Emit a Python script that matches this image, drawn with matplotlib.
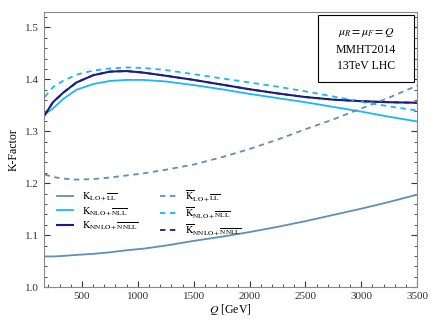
import numpy as np
import matplotlib
matplotlib.use('Agg')
import matplotlib.pyplot as plt
from matplotlib.ticker import MultipleLocator
from matplotlib.patches import Rectangle

plt.rcParams['font.family'] = ['Liberation Serif', 'DejaVu Serif']
plt.rcParams['mathtext.fontset'] = 'stix'

# Q [GeV]
Q = [166, 240, 330, 450, 600, 750, 900, 1050, 1250, 1500, 1750, 2000, 2250, 2500, 2750, 3000, 3250, 3500]

# K-factors
K_LO = [1.059, 1.059, 1.060, 1.062, 1.064, 1.067, 1.071, 1.074, 1.080, 1.089, 1.097, 1.106,
        1.116, 1.127, 1.139, 1.151, 1.164, 1.178]
K_NLO = [1.333, 1.344, 1.362, 1.380, 1.391, 1.397, 1.399, 1.399, 1.396, 1.389, 1.381, 1.372,
         1.364, 1.356, 1.347, 1.338, 1.328, 1.319]
K_NNLO = [1.331, 1.356, 1.374, 1.394, 1.408, 1.415, 1.416, 1.413, 1.407, 1.399, 1.390, 1.381,
          1.373, 1.366, 1.361, 1.358, 1.356, 1.355]
Kbar_LO = [1.217, 1.212, 1.209, 1.207, 1.208, 1.211, 1.215, 1.219, 1.226, 1.236, 1.250, 1.266,
           1.284, 1.304, 1.323, 1.344, 1.365, 1.388]
Kbar_NLO = [1.366, 1.385, 1.397, 1.409, 1.417, 1.421, 1.423, 1.422, 1.418, 1.410, 1.402, 1.394,
            1.386, 1.377, 1.367, 1.357, 1.348, 1.340]
Kbar_NNLO = K_NNLO  # lies on top of the solid NNLO curve

c_lo = '#5f8fb4'
c_nlo = '#1ab6f5'
c_nnlo = '#1c1c86'

labels_k = [r'$\mathrm{K}_{\mathrm{LO}+\overline{\mathrm{LL}}}$',
            r'$\mathrm{K}_{\mathrm{NLO}+\overline{\mathrm{NLL}}}$',
            r'$\mathrm{K}_{\mathrm{NNLO}+\overline{\mathrm{NNLL}}}$']
labels_kbar = [r'$\overline{\mathrm{K}}_{\mathrm{LO}+\overline{\mathrm{LL}}}$',
               r'$\overline{\mathrm{K}}_{\mathrm{NLO}+\overline{\mathrm{NLL}}}$',
               r'$\overline{\mathrm{K}}_{\mathrm{NNLO}+\overline{\mathrm{NNLL}}}$']

fig = plt.figure(figsize=(4.4, 3.3), dpi=100)
ax = fig.add_axes([0.1, 0.13, 0.848, 0.834])

dash = (0, (3, 2.5))
ax.plot(Q, K_LO, color=c_lo, lw=1.3, label=labels_k[0])
ax.plot(Q, K_NLO, color=c_nlo, lw=1.3, label=labels_k[1])
ax.plot(Q, K_NNLO, color=c_nnlo, lw=1.5, label=labels_k[2])
ax.plot(Q, Kbar_LO, color=c_lo, lw=1.3, ls=dash, label=labels_kbar[0])
ax.plot(Q, Kbar_NLO, color=c_nlo, lw=1.3, ls=dash, label=labels_kbar[1])
ax.plot(Q, Kbar_NNLO, color=c_nnlo, lw=1.3, ls=dash, label=labels_kbar[2])

ax.set_xlim(160, 3500)
ax.set_ylim(1.0, 1.53)
ax.xaxis.set_major_locator(MultipleLocator(500))
ax.xaxis.set_minor_locator(MultipleLocator(100))
ax.yaxis.set_major_locator(MultipleLocator(0.1))
ax.yaxis.set_minor_locator(MultipleLocator(0.02))
ax.tick_params(which='both', direction='in', right=True, labelsize=8, colors='#333333')
ax.tick_params(which='major', length=4)
ax.tick_params(which='minor', length=2)
for s in ax.spines.values():
    s.set_color('#888888')

ax.set_xlabel(r'$Q$ [GeV]', fontsize=8.5, labelpad=1)
ax.set_ylabel('K-Factor', fontsize=8.5)

ax.legend(ncol=2, frameon=False, fontsize=7.5, loc='upper left',
          bbox_to_anchor=(0.01, 0.392), handlelength=1.5, handletextpad=0.9,
          columnspacing=2.1, labelspacing=0.2)

ax.add_patch(Rectangle((0.735, 0.745), 0.257, 0.244, transform=ax.transAxes,
                       fc='white', ec='black', lw=0.8, zorder=5))
info = [r'$\mu_R=\mu_F=Q$', 'MMHT2014', '13TeV LHC']
for txt, yy in zip(info, [0.924, 0.862, 0.805]):
    ax.text(0.863, yy, txt, transform=ax.transAxes, ha='center', va='center',
            fontsize=8.5, zorder=6)

fig.savefig('out.png', dpi=100)
